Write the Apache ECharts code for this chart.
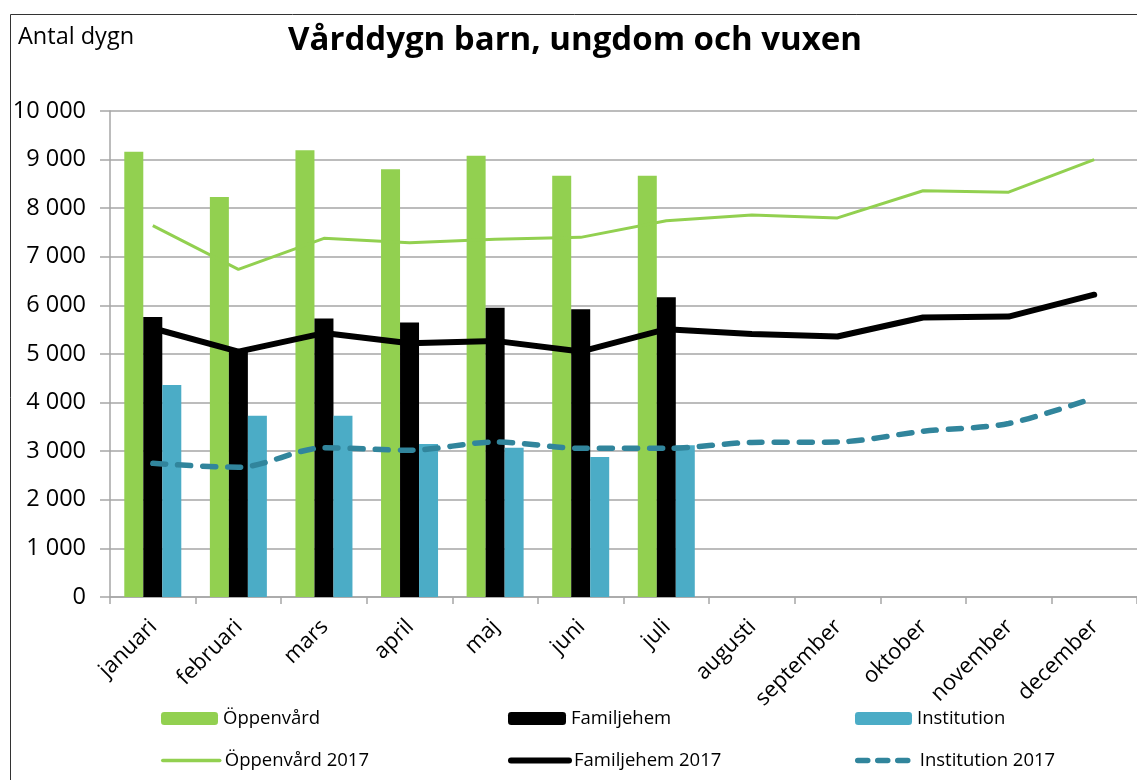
<!DOCTYPE html>
<html><head><meta charset="utf-8">
<script src="https://cdn.jsdelivr.net/npm/echarts@6/dist/echarts.min.js"></script>
<style>html,body{margin:0;padding:0;background:#fff}#c{width:1137px;height:780px}</style>
</head><body><div id="c"></div>
<script>
const months = ['januari','februari','mars','april','maj','juni','juli','augusti','september','oktober','november','december'];
const oppenvard = [9160, 8230, 9190, 8800, 9080, 8670, 8670, null, null, null, null, null];
const familjehem = [5760, 5080, 5730, 5650, 5950, 5920, 6170, null, null, null, null, null];
const institution = [4360, 3730, 3730, 3150, 3070, 2880, 3120, null, null, null, null, null];
const oppenvard2017 = [7640, 6740, 7380, 7290, 7360, 7400, 7740, 7860, 7800, 8360, 8330, 9000];
const familjehem2017 = [5530, 5050, 5430, 5220, 5270, 5050, 5510, 5410, 5360, 5750, 5770, 6220];
const institution2017 = [2750, 2670, 3070, 3020, 3190, 3060, 3060, 3180, 3190, 3410, 3570, 4100];
const yTicks = [0, 1000, 2000, 3000, 4000, 5000, 6000, 7000, 8000, 9000, 10000];

const FONT = 'Open Sans';
const chart = echarts.init(document.getElementById('c'), null, {renderer: 'canvas'});
const fmt = v => String(v).replace(/\B(?=(\d{3})+(?!\d))/g, ' ');
const legTxt = {fontFamily: FONT, fontSize: 18.5, color: '#000'};
function leg(name, left, top, w, lineStyle) {
  return {left: left, top: top, itemWidth: w, itemHeight: 13, padding: 0,
    data: [lineStyle ? {name: name, itemStyle: {opacity: 0}, lineStyle: lineStyle} : {name: name}],
    textStyle: legTxt, selectedMode: false};
}
chart.setOption({
  animation: false,
  backgroundColor: '#fff',
  textStyle: {fontFamily: FONT, color: '#000'},
  graphic: [
    {type: 'rect', left: 8, top: 12, shape: {width: 1140, height: 780}, style: {fill: 'none', stroke: '#333', lineWidth: 1}, silent: true},
    {type: 'text', x: 18, y: 37, style: {text: 'Antal dygn', font: '23.5px "Open Sans"', fill: '#000', verticalAlign: 'middle'}},
    {type: 'text', x: 575, y: 41, style: {text: 'Vårddygn barn, ungdom och vuxen', font: 'bold 33px "Open Sans"', fill: '#000', align: 'center', verticalAlign: 'middle'}}
  ],
  grid: {left: 110, right: 0, top: 111, bottom: 183, containLabel: false},
  legend: [
    leg('Öppenvård', 161, 709, 57, null),
    leg('Öppenvård 2017', 161, 751, 57, {width: 3.5, color: '#92D050', cap: 'round'}),
    leg('Familjehem', 508, 709, 58, null),
    leg('Familjehem 2017', 508, 751, 58, {width: 6, color: '#000000', cap: 'round'}),
    leg('Institution', 855, 709, 57, null),
    leg('Institution 2017', 855, 751, 57, {width: 5.5, color: '#31859C', type: [10, 10], cap: 'round'})
  ],
  xAxis: {
    type: 'category', data: months,
    axisLine: {lineStyle: {color: '#A6A6A6', width: 1.5}},
    axisTick: {show: true, length: 7, lineStyle: {color: '#A6A6A6', width: 1.5}},
    axisLabel: {rotate: 45, fontSize: 22, fontFamily: FONT, color: '#000', margin: 27, interval: 0, padding: [0, -1, 0, 0]}
  },
  yAxis: {
    type: 'value', min: 0, max: 10000, interval: 1000,
    axisLine: {show: true, lineStyle: {color: '#A6A6A6', width: 1.5}},
    axisTick: {show: true, length: 10, lineStyle: {color: '#A6A6A6', width: 1.5}},
    splitLine: {lineStyle: {color: '#A6A6A6', width: 1.5}},
    axisLabel: {fontSize: 23.5, fontFamily: FONT, color: '#000', margin: 24, formatter: v => fmt(v)}
  },
  series: [
    {name: 'Öppenvård', type: 'bar', data: oppenvard, barWidth: 19, barGap: '0%', itemStyle: {color: '#92D050'}},
    {name: 'Familjehem', type: 'bar', data: familjehem, barWidth: 19, barGap: '0%', itemStyle: {color: '#000000'}},
    {name: 'Institution', type: 'bar', data: institution, barWidth: 19, barGap: '0%', itemStyle: {color: '#4BACC6'}},
    {name: 'Öppenvård 2017', type: 'line', data: oppenvard2017, symbol: 'none', z: 5,
     lineStyle: {color: '#92D050', width: 3}, itemStyle: {color: '#92D050'}},
    {name: 'Familjehem 2017', type: 'line', data: familjehem2017, symbol: 'none', z: 5,
     lineStyle: {color: '#000000', width: 6, cap: 'round'}, itemStyle: {color: '#000000'}},
    {name: 'Institution 2017', type: 'line', data: institution2017, symbol: 'none', z: 5, smooth: 0.3,
     lineStyle: {color: '#31859C', width: 5.5, type: [13, 12], cap: 'round'}, itemStyle: {color: '#31859C'}}
  ]
});
</script></body></html>
